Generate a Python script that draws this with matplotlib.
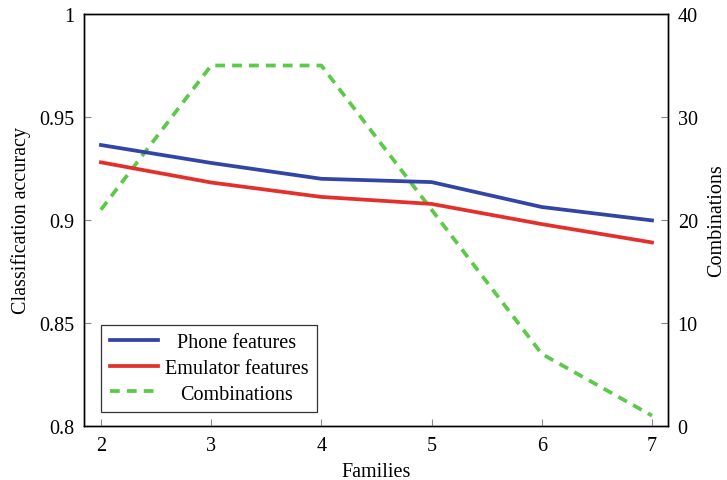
import matplotlib
matplotlib.use("Agg")
import matplotlib.pyplot as plt

# --------------------------------------------------
# Data
# --------------------------------------------------
families = [2, 3, 4, 5, 6, 7]
phone_acc = [0.9364, 0.9277, 0.9200, 0.9184, 0.9063, 0.8998]
emulator_acc = [0.9280, 0.9182, 0.9112, 0.9078, 0.8980, 0.8891]
combinations = [21, 35, 35, 21, 7, 1]

plt.rcParams['font.family'] = ['Liberation Serif', 'DejaVu Serif']

fig = plt.figure(figsize=(7.27, 4.81), dpi=100)
ax = fig.add_axes([0.1155, 0.1123, 0.8033, 0.8565])
ax2 = ax.twinx()

blue = '#3245a6'
red = '#e3302a'
green = '#5cc94a'
fs = 14.5

l1, = ax.plot(families, phone_acc, color=blue, lw=2.7, label='Phone features')
l2, = ax.plot(families, emulator_acc, color=red, lw=2.7, label='Emulator features')
l3, = ax2.plot(families, combinations, color=green, lw=2.7, ls=(0, (2.6, 1.9)),
               label='Combinations')

ax.set_xlim(1.846, 7.145)
ax.set_ylim(0.8, 1.0)
ax2.set_ylim(0, 40)
ax.set_xticks(families)
ax.set_yticks([0.8, 0.85, 0.9, 0.95, 1.0])
ax.set_yticklabels(['0.8', '0.85', '0.9', '0.95', '1'])
ax2.set_yticks([0, 10, 20, 30, 40])

for a in (ax, ax2):
    a.tick_params(direction='in', length=5, width=0.8, color='#888888',
                  labelsize=fs, pad=7)
    for s in a.spines.values():
        s.set_linewidth(1.0)

ax.set_xlabel('Families', fontsize=fs, labelpad=5)
ax.set_ylabel('Classification accuracy', fontsize=fs, labelpad=6)
ax2.set_ylabel('Combinations', fontsize=fs, labelpad=7)

leg = ax.legend(handles=[l1, l2, l3], loc='lower left',
                bbox_to_anchor=(0.03, 0.035), fontsize=fs, frameon=True,
                fancybox=False, edgecolor='black', handlelength=2.4,
                borderpad=0.4, labelspacing=0.33, handletextpad=0.35,
                borderaxespad=0)
leg.get_frame().set_linewidth(0.9)
ax2.set_zorder(0)
ax.set_zorder(1)
ax.patch.set_visible(False)

# centre legend labels like pgfplots
fig.canvas.draw()
r = fig.canvas.get_renderer()
widths = [t.get_window_extent(r).width for t in leg.get_texts()]
wmax = max(widths)
for t, w in zip(leg.get_texts(), widths):
    t.set_position(((wmax - w) / 2, 0))

plt.savefig('out.png', dpi=100)
